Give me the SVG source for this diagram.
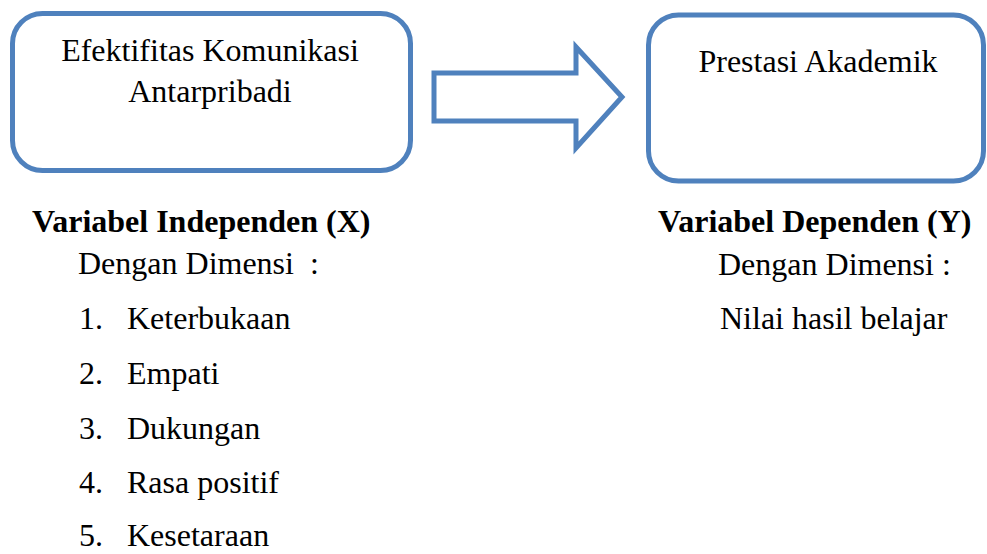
<svg xmlns="http://www.w3.org/2000/svg" width="987" height="554" viewBox="0 0 987 554">
<style>
.box{fill:#fff;stroke:#4F81BD;stroke-width:5}
.t{font-family:"Liberation Serif","Times New Roman",serif;font-size:32px;fill:#000}
.b{font-weight:bold}
.m{text-anchor:middle}
</style>
<rect width="987" height="554" fill="#fff"/>
<g id="node-x">
<rect class="box" x="12.5" y="13.5" width="398" height="157" rx="30"/>
<text class="t m" x="210" y="61">Efektifitas Komunikasi</text>
<text class="t m" x="210" y="102">Antarpribadi</text>
</g>
<g id="connectors">
<polygon points="434,73 576,73 576,47 622,97 576,148 576,121 434,121" fill="#fff" stroke="#4F81BD" stroke-width="5" stroke-linejoin="miter"/>
</g>
<g id="node-y">
<rect class="box" x="648.5" y="15" width="335" height="166" rx="30"/>
<text class="t m" x="818" y="72">Prestasi Akademik</text>
</g>
<g id="label-x">
<text class="t b" x="32" y="232">Variabel Independen (X)</text>
<text class="t" x="78" y="274" xml:space="preserve">Dengan Dimensi  :</text>
<text class="t" x="79" y="329">1.</text><text class="t" x="127" y="329">Keterbukaan</text>
<text class="t" x="79" y="384">2.</text><text class="t" x="127" y="384">Empati</text>
<text class="t" x="79" y="439">3.</text><text class="t" x="127" y="439">Dukungan</text>
<text class="t" x="79" y="493">4.</text><text class="t" x="127" y="493">Rasa positif</text>
<text class="t" x="79" y="546">5.</text><text class="t" x="127" y="546">Kesetaraan</text>
</g>
<g id="label-y">
<text class="t b" x="658" y="232">Variabel Dependen (Y)</text>
<text class="t" x="718" y="275">Dengan Dimensi :</text>
<text class="t" x="720" y="329">Nilai hasil belajar</text>
</g>
</svg>
